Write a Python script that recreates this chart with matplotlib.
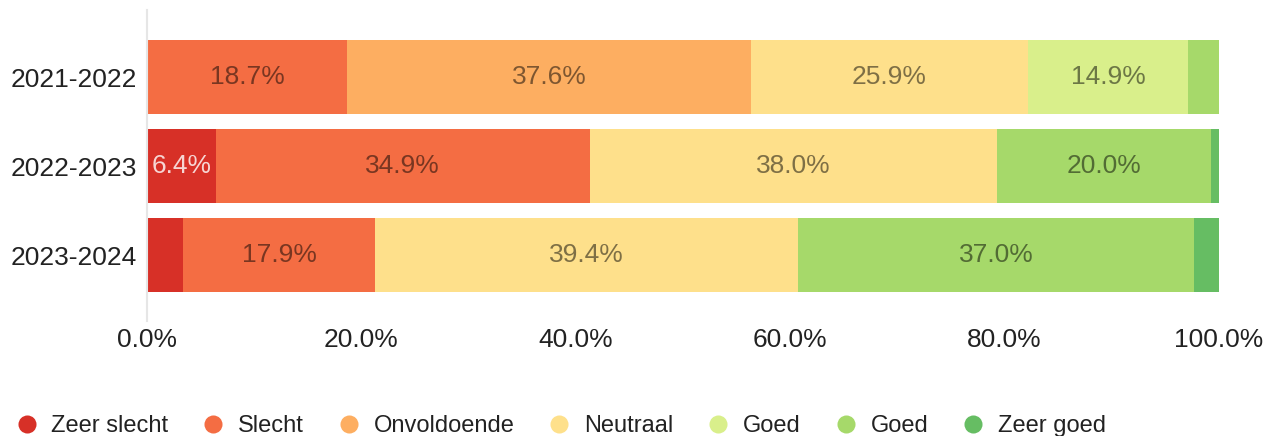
import matplotlib.pyplot as plt
import numpy as np
from matplotlib.lines import Line2D

plt.rcParams['font.family'] = ['Liberation Sans', 'DejaVu Sans']

# ---- data ----
years = ['2021-2022', '2022-2023', '2023-2024']
series_names = ['Zeer slecht', 'Slecht', 'Onvoldoende', 'Neutraal', 'Goed', 'Goed', 'Zeer goed']
zeer_slecht = [0.0, 6.4, 3.4]
slecht = [18.7, 34.9, 17.9]
onvoldoende = [37.6, 0.0, 0.0]
neutraal = [25.9, 38.0, 39.4]
goed_licht = [14.9, 0.0, 0.0]
goed = [2.9, 20.0, 37.0]
zeer_goed = [0.0, 0.7, 2.3]
colours = ['#d73027', '#f46d43', '#fdae61', '#fee08b', '#d9ef8b', '#a6d96a', '#66bd63']

series = [zeer_slecht, slecht, onvoldoende, neutraal, goed_licht, goed, zeer_goed]

W, H = 1266, 436
fig = plt.figure(figsize=(W / 100, H / 100), dpi=100)
ax = fig.add_axes([147 / W, 1 - 321 / H, (1219 - 147) / W, 311 / H])

y = np.arange(len(years))
left = np.zeros(len(years))
for vals, name, col in zip(series, series_names, colours):
    vals = np.array(vals)
    ax.barh(y, vals, left=left, height=0.83, color=col, edgecolor='none')
    for i, v in enumerate(vals):
        if v > 5:
            tc, ta = ('white', 0.8) if col == '#d73027' else ('black', 0.5)
            ax.text(left[i] + v / 2, y[i], '%.1f%%' % v, ha='center', va='center',
                    fontsize=19, color=tc, alpha=ta)
    left += vals

ax.set_xlim(0, 100)
ax.set_ylim(2.741, -0.753)
ax.set_yticks(y)
ax.set_yticklabels(years, fontsize=19, color='#222222')
ax.set_xticks(np.arange(0, 101, 20))
ax.set_xticklabels(['%.1f%%' % t for t in np.arange(0, 101, 20)], fontsize=19, color='#222222')
ax.tick_params(length=0)
ax.tick_params(axis='y', pad=7)
ax.tick_params(axis='x', pad=5)
for s in ['top', 'right', 'bottom']:
    ax.spines[s].set_visible(False)
ax.spines['left'].set_color('#e6e6e6')
ax.spines['left'].set_linewidth(1.5)

handles = [Line2D([], [], marker='o', linestyle='none', markersize=13,
                  markerfacecolor=c, markeredgecolor='none') for c in colours]
fig.legend(handles, series_names, loc='center left', bbox_to_anchor=(3 / W, 1 - 426 / H),
           ncol=7, frameon=False, fontsize=17, handletextpad=0.45, columnspacing=1.3,
           handlelength=1.2, borderaxespad=0, labelcolor='#222222')

fig.savefig('out.png', dpi=100)
